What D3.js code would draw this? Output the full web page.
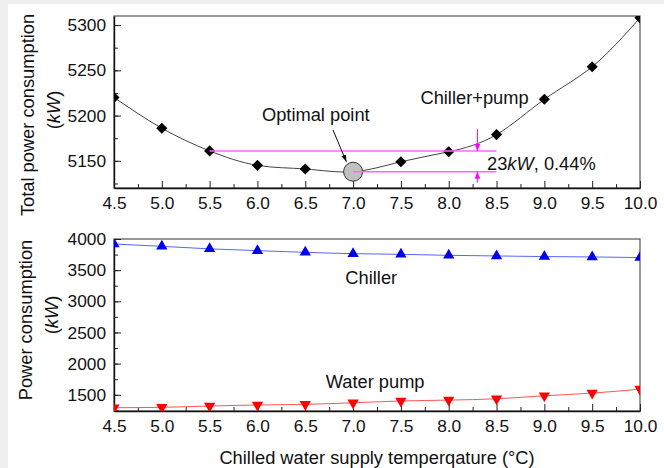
<!DOCTYPE html>
<html>
<head>
<meta charset="utf-8">
<script src="https://cdn.jsdelivr.net/npm/d3@7"></script>
<style>
  body { margin: 0; background: #fff; }
  svg { display: block; font-family: "Liberation Sans", Arial, sans-serif; }
</style>
</head>
<body>
<div id="viz"></div>
<script>
// chilled water supply temperature (°C)
const temps = [4.5, 5.0, 5.5, 6.0, 6.5, 7.0, 7.5, 8.0, 8.5, 9.0, 9.5, 10.0];
// total (chiller + pump) power, kW
const totalPower = [5220, 5186, 5161, 5145, 5141, 5138, 5149, 5160, 5179, 5218, 5254, 5308];
// chiller power, kW
const chillerPower = [3920, 3882, 3842, 3813, 3786, 3765, 3754, 3738, 3728, 3718, 3712, 3702];
// water pump power, kW
const pumpPower = [1293, 1299, 1320, 1336, 1347, 1372, 1400, 1415, 1436, 1484, 1527, 1591];

const xTicks = [4.5, 5.0, 5.5, 6.0, 6.5, 7.0, 7.5, 8.0, 8.5, 9.0, 9.5, 10.0];
const topYTicks = [5150, 5200, 5250, 5300];
const botYTicks = [1500, 2000, 2500, 3000, 3500, 4000];

// annotation values
const optimum = { t: 7.0, p: 5138 };
const refLevel = { from: 5.5, to: 8.5, p: 5161 };
const optLevel = { from: 7.0, to: 8.5, p: 5138 };
const gapArrowT = 8.3;

const width = 664;
const height = 468;

const svg = d3.select('#viz').append('svg')
  .attr('width', width)
  .attr('height', height);

// page-like gray edges
svg.append('rect').attr('x', 0).attr('y', 0).attr('width', width).attr('height', 4).attr('fill', '#f0f0f0');
svg.append('rect').attr('x', 0).attr('y', 0).attr('width', 8).attr('height', height).attr('fill', '#f0f0f0');

const defs = svg.append('defs');
defs.append('marker')
  .attr('id', 'arrMag').attr('viewBox', '0 0 10 10').attr('refX', 10).attr('refY', 5)
  .attr('markerWidth', 7).attr('markerHeight', 7).attr('markerUnits', 'userSpaceOnUse')
  .attr('orient', 'auto')
  .append('path').attr('d', 'M0,1 L10,5 L0,9 Z').attr('fill', '#ff00ff');
defs.append('marker')
  .attr('id', 'arrBlk').attr('viewBox', '0 0 10 10').attr('refX', 10).attr('refY', 5)
  .attr('markerWidth', 7).attr('markerHeight', 7).attr('markerUnits', 'userSpaceOnUse')
  .attr('orient', 'auto')
  .append('path').attr('d', 'M0,1.5 L10,5 L0,8.5 Z').attr('fill', '#111');

const x = d3.scaleLinear().domain([4.5, 10]).range([114, 640]);
const yTop = d3.scaleLinear().domain([5120, 5310]).range([188, 16]);
const yBot = d3.scaleLinear().domain([1240, 4000]).range([411, 239]);

const TICK_FONT = 17.3;
const FONT = 18.3;

const drawPanel = function (y, yTicks, yMinorStep, clipId) {
  const [y0, y1] = y.range();
  defs.append('clipPath').attr('id', clipId)
    .append('rect').attr('x', x.range()[0]).attr('y', y1)
    .attr('width', x.range()[1] - x.range()[0]).attr('height', y0 - y1);

  // frame (top/right)
  svg.append('rect')
    .attr('x', x.range()[0]).attr('y', y1)
    .attr('width', x.range()[1] - x.range()[0]).attr('height', y0 - y1)
    .attr('fill', 'none').attr('stroke', '#555').attr('stroke-width', 1.2);

  const yMinor = d3.range(y.domain()[0] - (y.domain()[0] % yMinorStep) + yMinorStep, y.domain()[1], yMinorStep);
  const xMinor = d3.range(4.75, 10, 0.5);

  svg.append('g').attr('transform', `translate(0,${y0})`)
    .call(d3.axisBottom(x).tickValues(xMinor).tickSize(-4).tickFormat(''))
    .call(g => g.select('.domain').remove())
    .call(g => g.selectAll('line').attr('stroke', '#222'));
  svg.append('g').attr('transform', `translate(${x.range()[0]},0)`)
    .call(d3.axisLeft(y).tickValues(yMinor).tickSize(-4).tickFormat(''))
    .call(g => g.select('.domain').remove())
    .call(g => g.selectAll('line').attr('stroke', '#222'));

  svg.append('g').attr('transform', `translate(0,${y0})`)
    .call(d3.axisBottom(x).tickValues(xTicks).tickSize(-7).tickSizeOuter(0).tickPadding(9).tickFormat(d3.format('.1f')))
    .call(g => g.select('.domain').attr('stroke', '#111').attr('stroke-width', 1.4))
    .call(g => g.selectAll('line').attr('stroke', '#222'))
    .call(g => g.selectAll('text').attr('font-size', TICK_FONT).attr('fill', '#111').attr('font-family', null));
  svg.append('g').attr('transform', `translate(${x.range()[0]},0)`)
    .call(d3.axisLeft(y).tickValues(yTicks).tickSize(-7).tickSizeOuter(0).tickPadding(8).tickFormat(d3.format('d')))
    .call(g => g.select('.domain').attr('stroke', '#111').attr('stroke-width', 1.4))
    .call(g => g.selectAll('line').attr('stroke', '#222'))
    .call(g => g.selectAll('text').attr('font-size', TICK_FONT).attr('fill', '#111').attr('font-family', null));

  return svg.append('g').attr('clip-path', `url(#${clipId})`);
};

// ---------- top panel ----------
const topG = drawPanel(yTop, topYTicks, 25, 'clipTop');

topG.append('path')
  .datum(temps.map((t, i) => [t, totalPower[i]]))
  .attr('fill', 'none').attr('stroke', '#444').attr('stroke-width', 1)
  .attr('d', d3.line().x(d => x(d[0])).y(d => yTop(d[1])).curve(d3.curveNatural));

// reference level
svg.append('line')
  .attr('x1', x(refLevel.from)).attr('x2', x(refLevel.to))
  .attr('y1', yTop(refLevel.p)).attr('y2', yTop(refLevel.p))
  .attr('stroke', '#ff66ff').attr('stroke-width', 1.5);

topG.selectAll('.dia').data(temps).enter().append('path')
  .attr('class', 'dia')
  .attr('transform', (d, i) => `translate(${x(d)},${yTop(totalPower[i])}) rotate(45)`)
  .attr('d', d3.symbol(d3.symbolSquare, 62)())
  .attr('fill', '#000');

// optimal point circle
svg.append('circle')
  .attr('cx', x(optimum.t)).attr('cy', yTop(optimum.p)).attr('r', 9.5)
  .attr('fill', '#c0c0c0').attr('stroke', '#333').attr('stroke-width', 1);
svg.append('line')
  .attr('x1', x(optLevel.from)).attr('x2', x(optLevel.to))
  .attr('y1', yTop(optLevel.p)).attr('y2', yTop(optLevel.p))
  .attr('stroke', '#ff66ff').attr('stroke-width', 1.5);

// gap arrows
svg.append('line')
  .attr('x1', x(gapArrowT)).attr('x2', x(gapArrowT))
  .attr('y1', yTop(5185)).attr('y2', yTop(refLevel.p))
  .attr('stroke', '#ff00ff').attr('stroke-width', 1).attr('marker-end', 'url(#arrMag)');
svg.append('line')
  .attr('x1', x(gapArrowT)).attr('x2', x(gapArrowT))
  .attr('y1', yTop(5126)).attr('y2', yTop(optLevel.p))
  .attr('stroke', '#ff00ff').attr('stroke-width', 1).attr('marker-end', 'url(#arrMag)');

const gapText = svg.append('text')
  .attr('x', x(8.4)).attr('y', yTop(5147.5))
  .attr('dominant-baseline', 'central')
  .attr('font-size', FONT).attr('fill', '#111');
gapText.append('tspan').text('23');
gapText.append('tspan').attr('font-style', 'italic').text('kW');
gapText.append('tspan').text(', 0.44%');

svg.append('text')
  .attr('x', x(6.61)).attr('y', yTop(5201.5))
  .attr('text-anchor', 'middle').attr('dominant-baseline', 'central')
  .attr('font-size', FONT).attr('fill', '#111')
  .text('Optimal point');
svg.append('line')
  .attr('x1', x(6.79)).attr('y1', yTop(5184))
  .attr('x2', x(6.93)).attr('y2', yTop(5149))
  .attr('stroke', '#111').attr('stroke-width', 1).attr('marker-end', 'url(#arrBlk)');

svg.append('text')
  .attr('x', x(8.27)).attr('y', yTop(5220.5))
  .attr('text-anchor', 'middle').attr('dominant-baseline', 'central')
  .attr('font-size', FONT).attr('fill', '#111')
  .text('Chiller+pump');

// ---------- bottom panel ----------
const botG = drawPanel(yBot, botYTicks, 250, 'clipBot');

const lineBot = d3.line().x(d => x(d[0])).y(d => yBot(d[1])).curve(d3.curveNatural);
botG.append('path')
  .datum(temps.map((t, i) => [t, chillerPower[i]]))
  .attr('fill', 'none').attr('stroke', '#5566ff').attr('stroke-width', 1)
  .attr('d', lineBot);
botG.append('path')
  .datum(temps.map((t, i) => [t, pumpPower[i]]))
  .attr('fill', 'none').attr('stroke', '#ff5555').attr('stroke-width', 1)
  .attr('d', lineBot);

const tri = d3.symbol(d3.symbolTriangle, 55)();
botG.selectAll('.up').data(temps).enter().append('path')
  .attr('transform', (d, i) => `translate(${x(d)},${yBot(chillerPower[i])})`)
  .attr('d', tri).attr('fill', '#0000ee');
botG.selectAll('.down').data(temps).enter().append('path')
  .attr('transform', (d, i) => `translate(${x(d)},${yBot(pumpPower[i])}) rotate(180)`)
  .attr('d', tri).attr('fill', '#ff0000');

svg.append('text')
  .attr('x', x(7.19)).attr('y', yBot(3379))
  .attr('text-anchor', 'middle').attr('dominant-baseline', 'central')
  .attr('font-size', FONT).attr('fill', '#111')
  .text('Chiller');
svg.append('text')
  .attr('x', x(7.23)).attr('y', yBot(1710))
  .attr('text-anchor', 'middle').attr('dominant-baseline', 'central')
  .attr('font-size', FONT).attr('fill', '#111')
  .text('Water pump');

// ---------- axis titles ----------
svg.append('text')
  .attr('x', (x.range()[0] + x.range()[1]) / 2).attr('y', 457)
  .attr('text-anchor', 'middle').attr('dominant-baseline', 'central')
  .attr('font-size', FONT).attr('fill', '#111')
  .text('Chilled water supply temperqature (°C)');

const yTitle = function (cx, cy, lines) {
  const g = svg.append('g').attr('transform', `translate(${cx},${cy}) rotate(-90)`);
  g.append('text')
    .attr('text-anchor', 'middle').attr('dominant-baseline', 'central')
    .attr('font-size', FONT).attr('fill', '#111')
    .text(lines);
  const t = g.append('text')
    .attr('y', 26).attr('x', 5)
    .attr('text-anchor', 'middle').attr('dominant-baseline', 'central')
    .attr('font-size', FONT).attr('fill', '#111');
  t.append('tspan').text('(');
  t.append('tspan').attr('font-style', 'italic').text('kW');
  t.append('tspan').text(')');
};
yTitle(27, 115, 'Total power consumption');
yTitle(25, 320, 'Power consumption');
</script>
</body>
</html>
